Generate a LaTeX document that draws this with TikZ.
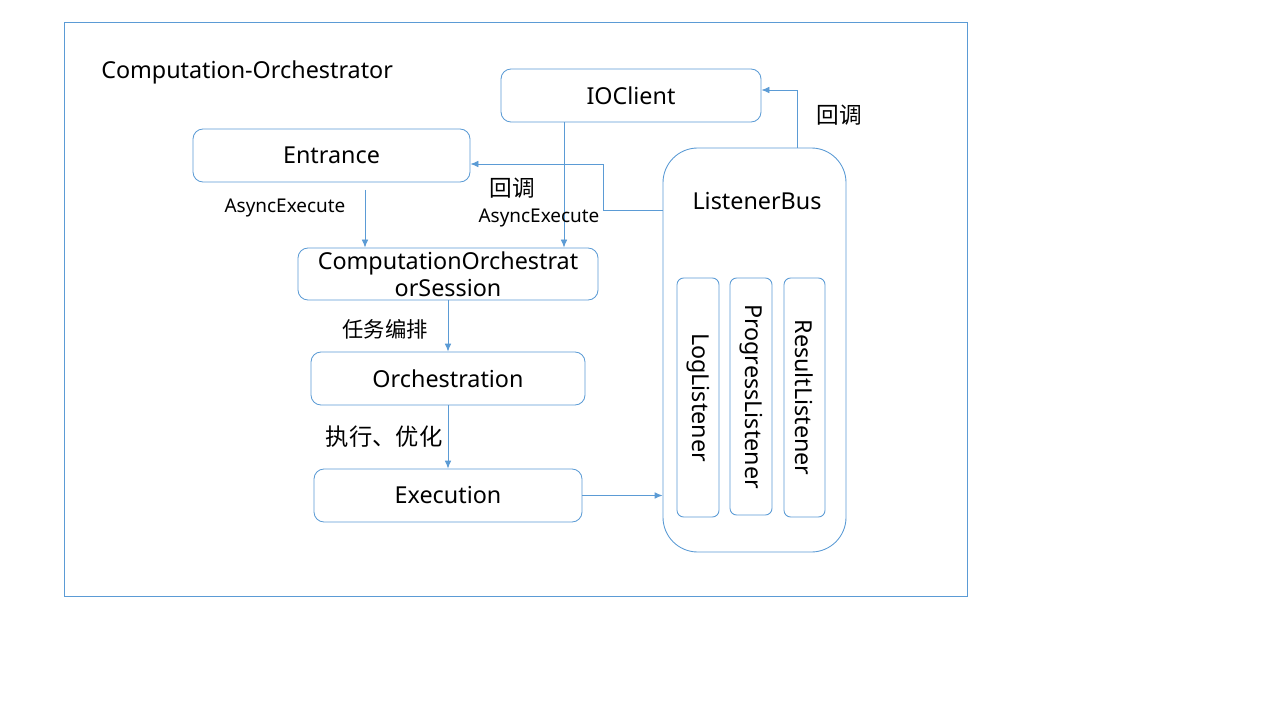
\documentclass[tikz,border=0pt]{standalone}
\usepackage{fontspec}
\setmainfont{Noto Sans}
\newfontfamily\cjk{Noto Sans CJK SC}
\usetikzlibrary{arrows.meta,calc}
\definecolor{lblue}{HTML}{5B9BD5}
\tikzset{
  px/.style={x=0.75pt,y=-0.75pt},
  big/.style={font=\fontsize{17.5}{20.5}\selectfont},
  box/.style={draw=lblue,line width=0.65pt,rounded corners=7.5pt,inner sep=0pt,align=center,big},
  lbox/.style={draw=lblue,line width=0.65pt,rounded corners=5pt,inner sep=0pt,big},
  arr/.style={draw=lblue,line width=0.65pt,-{Latex[length=6pt,width=5pt]}},
  lab/.style={font=\fontsize{14.2}{16}\selectfont,inner sep=0pt},
  cn/.style={font=\cjk\fontsize{17}{19}\selectfont,inner sep=0pt},
}
\begin{document}
\begin{tikzpicture}[px]
\useasboundingbox[fill=white] (0,0) rectangle (1280,720);
\node[draw=lblue,line width=0.65pt,minimum width=677.25pt,minimum height=430.5pt,inner sep=0pt] (frame) at (515.5,309) {};
\node[anchor=west,inner sep=0pt,big] (title) at (101,72) {Computation-Orchestrator};
\node[box,minimum width=195pt,minimum height=39.75pt] (io) at (631,95.5) {IOClient};
\node[box,minimum width=207.75pt,minimum height=39.75pt] (ent) at (331.5,155.5) {Entrance};
\node[box,minimum width=225pt,minimum height=39pt] (cos) at (448,274) {ComputationOrchestrat\\orSession};
\node[box,minimum width=205.5pt,minimum height=39.75pt] (orch) at (448,378.5) {Orchestration};
\node[box,minimum width=201pt,minimum height=39.75pt] (exec) at (448,495.5) {Execution};
\node[draw=lblue,line width=0.65pt,rounded corners=26pt,minimum width=137.25pt,minimum height=303pt,inner sep=0pt] (lb) at (754.5,350) {};
\node[inner sep=0pt,big] (lbt) at (757,201) {ListenerBus};
\node[lbox,minimum width=31.5pt,minimum height=179.25pt] (log) at (698,397.5) {\rotatebox{-90}{LogListener}};
\node[lbox,minimum width=31.5pt,minimum height=177.75pt] (prog) at (751,396.5) {\rotatebox{-90}{ProgressListener}};
\node[lbox,minimum width=30.75pt,minimum height=179.25pt] (res) at (804.5,397.5) {\rotatebox{-90}{ResultListener}};
% connectors
\coordinate (e1) at (365,190);
\draw[arr] (e1) -- (e1 |- cos.north);
\coordinate (xio) at (564,0);
\draw[arr] (io.south -| xio) -- (xio |- cos.north);
\coordinate (ylb) at (0,210);
\coordinate (yen) at (0,164);
\draw[arr] (lb.west |- ylb) -- (603,210) |- (ent.east |- yen);
\coordinate (xlb) at (797,0);
\coordinate (yio) at (0,90);
\draw[arr] (lb.north -| xlb) |- (io.east |- yio);
\draw[arr] (cos.south) -- (orch.north);
\draw[arr] (orch.south) -- (exec.north);
\draw[arr] (exec.east) -- (exec.east -| lb.west);
% labels
\node[lab] (l1) at (285,208) {AsyncExecute};
\node[lab] (l2) at (539,218) {AsyncExecute};
\node[cn] (c1) at (512,188) {回调};
\node[cn] (c2) at (839,115) {回调};
\node[cn,font=\cjk\fontsize{16}{18}\selectfont] (c3) at (385,329) {任务编排};
\node[cn,font=\cjk\fontsize{17.5}{19}\selectfont] (c4) at (384,437) {执行、优化};
\end{tikzpicture}
\end{document}
